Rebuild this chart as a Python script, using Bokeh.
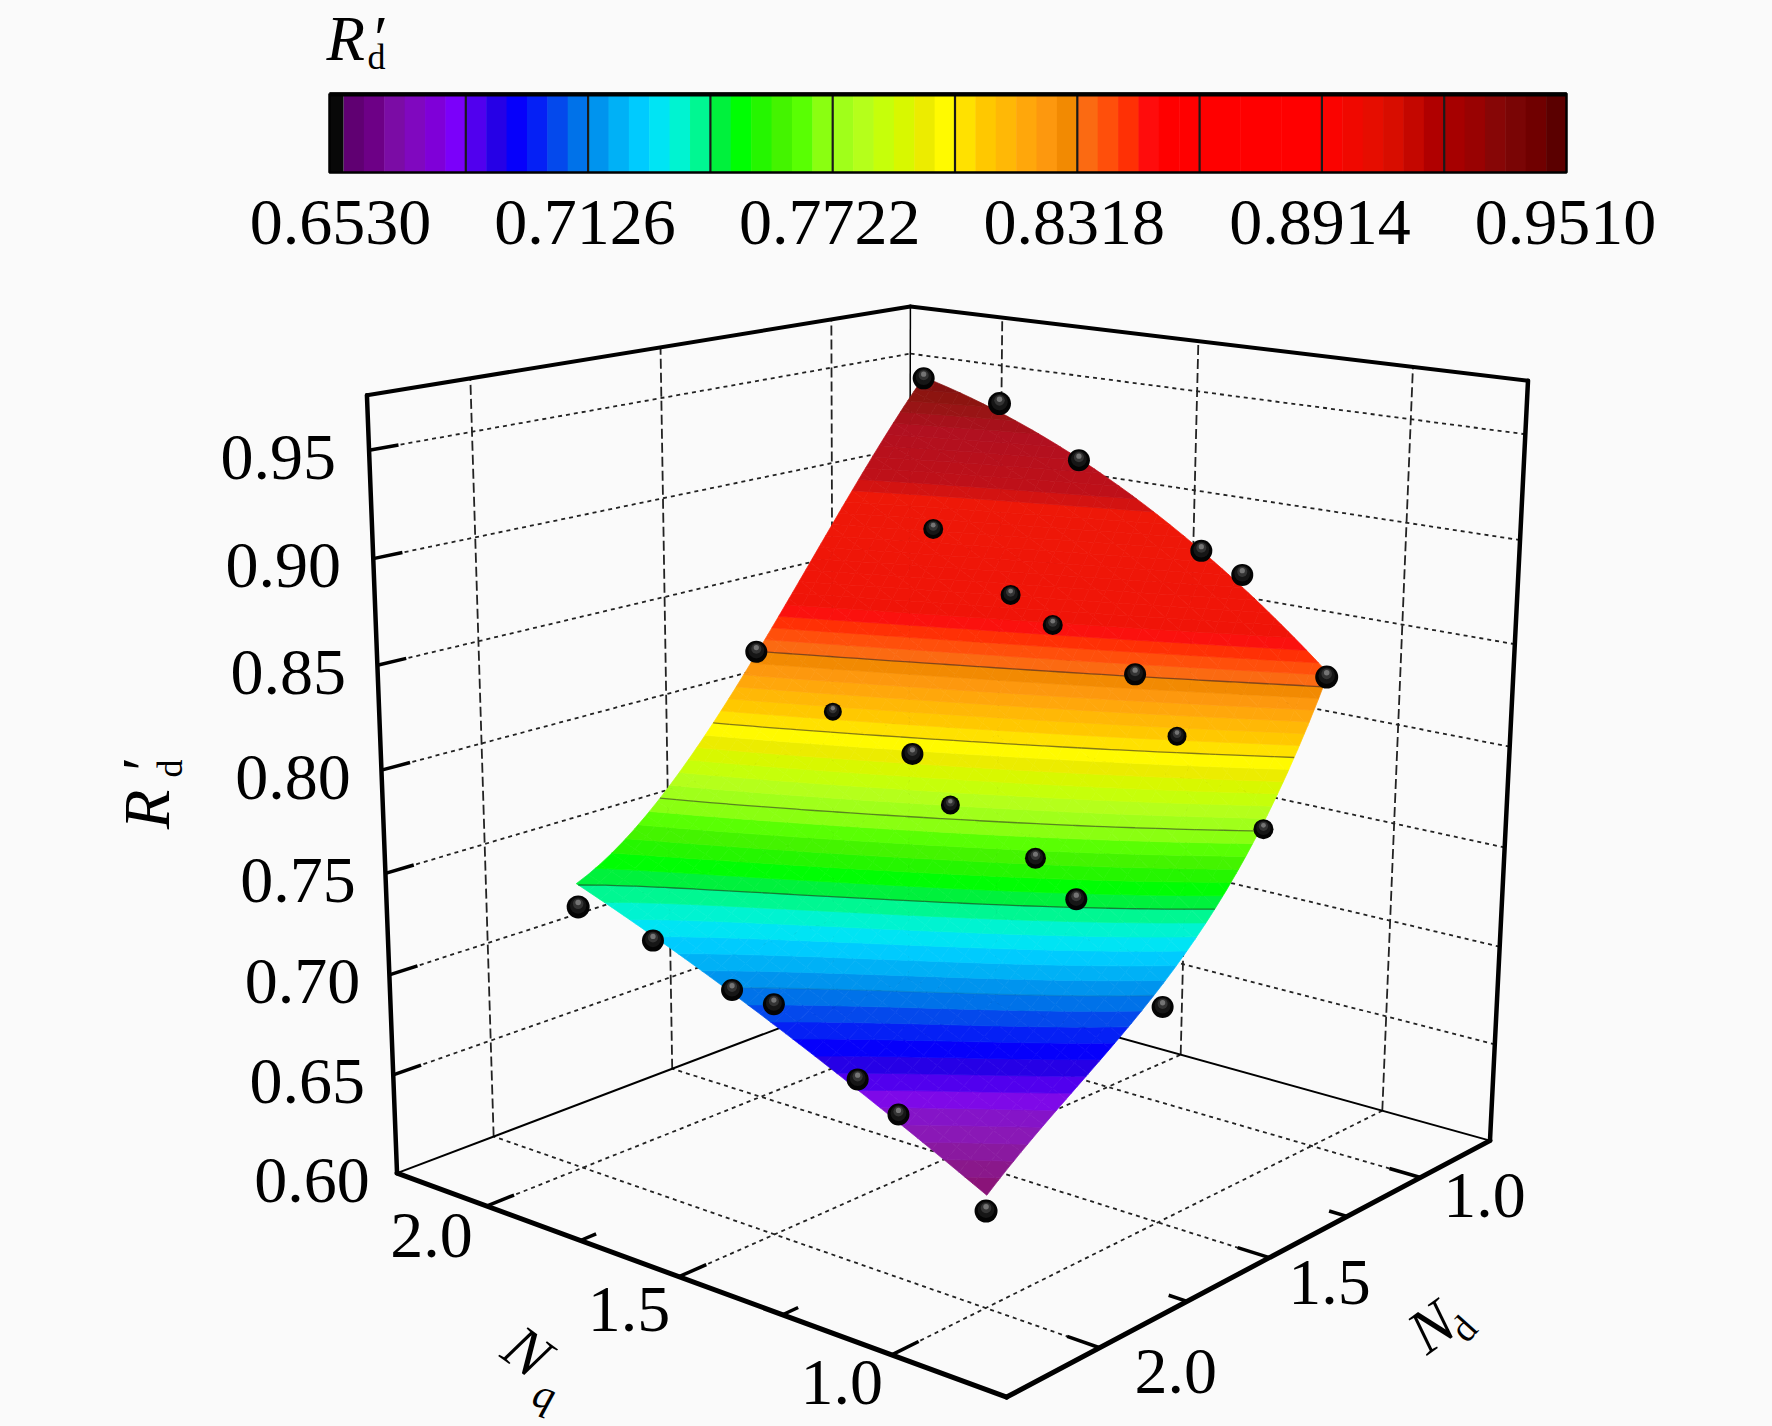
from bokeh.plotting import figure
from bokeh.embed import file_html
from bokeh.resources import INLINE
from bokeh.core.properties import value
import numpy as np

nq_grid = [1.0, 1.25, 1.5, 1.75, 2.0]
nd_grid = [1.0, 1.25, 1.5, 1.75, 2.0]
rd_nq100 = [0.838, 0.762, 0.718, 0.684, 0.653]
rd_nq125 = [0.878, 0.804, 0.748, 0.710, 0.678]
rd_nq150 = [0.912, 0.839, 0.776, 0.736, 0.702]
rd_nq175 = [0.934, 0.868, 0.802, 0.758, 0.723]
rd_nq200 = [0.951, 0.897, 0.826, 0.780, 0.742]
sample_nq = [2.000,1.810,1.600,1.300,1.210,1.000,1.825,1.615,1.510,1.325,1.205,2.020,1.810,1.625,1.505,1.315,1.210,0.995,1.965,1.795,1.605,1.525,1.310,1.210,0.985,0.975]
sample_nd = [1.000,0.990,1.000,1.000,0.990,1.005,1.175,1.190,1.190,1.170,1.195,1.480,1.490,1.470,1.500,1.480,1.490,1.205,2.030,2.005,1.995,1.970,1.985,1.990,2.020,1.535]
sample_rd = [0.951,0.943,0.921,0.886,0.877,0.836,0.886,0.861,0.850,0.832,0.808,0.830,0.809,0.795,0.777,0.759,0.745,0.773,0.735,0.726,0.712,0.708,0.686,0.676,0.648,0.709]
sample_r_px = [11,11.5,11,11,11,11.5,10,10,10,11,9.5,11,9,11,9.5,10.5,11,10,11.5,11,11,11,11,11,11.5,11]
cbar_ticks = [0.6530, 0.7126, 0.7722, 0.8318, 0.8914, 0.9510]
rd_ticks = [0.60, 0.65, 0.70, 0.75, 0.80, 0.85, 0.90, 0.95]
n_major = [1.0, 1.5, 2.0]
n_minor = [1.25, 1.75]
R_TOP = 0.975
cmap_stops = [(0.000,"#5a0068"),(0.027,"#6e0088"),(0.047,"#8010b0"),(0.071,"#8000d0"),(0.094,"#7a00ff"),(0.120,"#3000e0"),
 (0.145,"#0000ff"),(0.165,"#0830f0"),(0.187,"#0068e8"),(0.214,"#00a0f0"),(0.240,"#00c8ff"),(0.266,"#00f0f0"),(0.289,"#00f8a0"),
 (0.307,"#00f040"),(0.326,"#00ff00"),(0.353,"#40f000"),(0.372,"#50ff00"),(0.390,"#88ff10"),(0.420,"#b0ff20"),(0.452,"#d0ff00"),
 (0.472,"#e8e800"),(0.488,"#ffff00"),(0.525,"#ffc800"),(0.572,"#ff9a10"),(0.594,"#f08800"),(0.613,"#ff6018"),(0.635,"#ff4000"),
 (0.655,"#ff1010"),(0.668,"#ff0000"),(0.799,"#ff0000"),(0.852,"#e01000"),(0.891,"#b00000"),(0.918,"#a00000"),(0.948,"#800808"),
 (0.975,"#700000"),(1.000,"#500000")]
surface_low = [(0.000,"#8a1070"),(0.030,"#8a1a90"),(0.060,"#8a18b8"),(0.090,"#8010d8")]
surface_high = [(0.668,"#f01408"),(0.830,"#ee1808"),(0.850,"#c01018"),(0.930,"#b01020"),(0.970,"#901510"),(1.000,"#801010")]
surface_stops = surface_low + [s for s in cmap_stops if 0.09 < s[0] < 0.668] + surface_high

W, H = 1772, 1426
p = figure(width=W, height=H, x_range=(0, W), y_range=(H, 0), output_backend="svg", toolbar_location=None,
           min_border=0, outline_line_color=None, background_fill_color="#fafafa", border_fill_color="#fafafa")
p.xaxis.visible = False; p.yaxis.visible = False; p.grid.visible = False

# camera
Qa, Qb, Da, Db = 0.75, 2.25, 0.75, 2.25
corners = [((Qb,Db,R_TOP),(367,394)),((Qb,Db,0.6),(397,1173)),((Qa,Db,0.6),(1005,1397)),((Qa,Da,0.6),(1490,1139)),
           ((Qa,Da,R_TOP),(1528,381)),((Qb,Da,0.6),(908,979)),((Qb,Da,R_TOP),(909,306))]
def norm(q,d,r):
    return (np.asarray(q,float)-Qa)/1.5, (np.asarray(d,float)-Da)/1.5, (np.asarray(r,float)-0.6)/(R_TOP-0.6)
A=[]
for (q,d,r),(x,y) in corners:
    u,v,w=norm(q,d,r); x/=1000; y/=1000
    A.append([u,v,w,1,0,0,0,0,-x*u,-x*v,-x*w,-x]); A.append([0,0,0,0,u,v,w,1,-y*u,-y*v,-y*w,-y])
PM=np.linalg.svd(np.array(A,float))[2][-1].reshape(3,4)
def proj(q,d,r):
    u,v,w=norm(q,d,r); u,v,w=np.broadcast_arrays(u,v,w)
    s=PM[2,0]*u+PM[2,1]*v+PM[2,2]*w+PM[2,3]
    return 1000*(PM[0,0]*u+PM[0,1]*v+PM[0,2]*w+PM[0,3])/s, 1000*(PM[1,0]*u+PM[1,1]*v+PM[1,2]*w+PM[1,3])/s

def seg(pts_a, pts_b, **kw):
    xs=[];ys=[]
    for a,b in zip(pts_a,pts_b):
        xa,ya=proj(*a); xb,yb=proj(*b)
        xs.append([float(xa),float(xb)]); ys.append([float(ya),float(yb)])
    p.multi_line(xs,ys,**kw)

grid_kw=dict(line_color="#222222",line_width=1.8)
seg([(Qb,Db,r) for r in rd_ticks[1:]],[(Qb,Da,r) for r in rd_ticks[1:]],line_dash="4 4",**grid_kw)
seg([(Qa,Da,r) for r in rd_ticks[1:]],[(Qb,Da,r) for r in rd_ticks[1:]],line_dash="4 4",**grid_kw)
seg([(Qb,d,0.6) for d in n_major],[(Qb,d,R_TOP) for d in n_major],line_dash="10 4",**grid_kw)
seg([(q,Da,0.6) for q in n_major],[(q,Da,R_TOP) for q in n_major],line_dash="10 4",**grid_kw)
seg([(q,Db,0.6) for q in n_major],[(q,Da,0.6) for q in n_major],line_dash="4 4",**grid_kw)
seg([(Qa,d,0.6) for d in n_major],[(Qb,d,0.6) for d in n_major],line_dash="4 4",**grid_kw)
seg([(Qb,Db,0.6),(Qa,Da,0.6)],[(Qb,Da,0.6),(Qb,Da,0.6)],line_color="black",line_width=2)
seg([(Qb,Da,0.6)],[(Qb,Da,R_TOP)],line_color="black",line_width=1.5)

# colour map
def hex2(c): return np.array([int(c[i:i+2],16) for i in (1,3,5)],float)
def make_cmap(stops):
    fs=np.array([s[0] for s in stops]); cs=np.array([hex2(s[1]) for s in stops])
    def f_(v):
        f=(v-cbar_ticks[0])/(cbar_ticks[-1]-cbar_ticks[0])
        return "#%02x%02x%02x"%tuple(int(round(np.interp(f,fs,cs[:,i]))) for i in range(3))
    return f_
cmap=make_cmap(cmap_stops); smap=make_cmap(surface_stops)
N_BANDS=60
levels=np.linspace(cbar_ticks[0],cbar_ticks[-1],N_BANDS+1)
band_cols=[cmap(0.5*(levels[i]+levels[i+1])) for i in range(N_BANDS)]
surf_cols=[smap(0.5*(levels[i]+levels[i+1])) for i in range(N_BANDS)]

# surface
mesh=np.array([rd_nq100,rd_nq125,rd_nq150,rd_nq175,rd_nq200])
mq,md=np.meshgrid(nq_grid,nd_grid,indexing="ij")
def basis(q,d): return np.stack([q**i*d**j for i in range(4) for j in range(4)],axis=-1)
coef=np.linalg.lstsq(basis(mq.ravel(),md.ravel()),mesh.ravel(),rcond=None)[0]
def surf(q,d): return basis(np.asarray(q,float),np.asarray(d,float))@coef
M=32
fq,fd=np.meshgrid(np.linspace(1,2,M+1),np.linspace(1,2,M+1),indexing="ij")
fr=surf(fq,fd)
def clip(poly,lim,keep_above):
    out=[]
    for i in range(len(poly)):
        a=poly[i];b=poly[(i+1)%len(poly)]
        ina=(a[2]>=lim) if keep_above else (a[2]<=lim)
        inb=(b[2]>=lim) if keep_above else (b[2]<=lim)
        if ina: out.append(a)
        if ina!=inb:
            t=(lim-a[2])/(b[2]-a[2]); out.append(tuple(a[k]+t*(b[k]-a[k]) for k in range(3)))
    return out
px=[];py=[];pc=[]
cl_levels=[0.7126,0.7424,0.7722,0.8020,0.8318]
cx={l:[] for l in cl_levels}; cy={l:[] for l in cl_levels}
for i in range(M):
    for j in range(M):
        cell=[(fq[i,j],fd[i,j],fr[i,j]),(fq[i+1,j],fd[i+1,j],fr[i+1,j]),(fq[i+1,j+1],fd[i+1,j+1],fr[i+1,j+1]),(fq[i,j+1],fd[i,j+1],fr[i,j+1])]
        rs=[c[2] for c in cell]
        lo=int(np.clip(np.searchsorted(levels,min(rs))-1,0,N_BANDS-1)); hi=int(np.clip(np.searchsorted(levels,max(rs))-1,0,N_BANDS-1))
        for b in range(lo,hi+1):
            poly=cell
            if b>0: poly=clip(poly,levels[b],True)
            if poly and b<N_BANDS-1: poly=clip(poly,levels[b+1],False)
            if len(poly)>=3:
                arr=np.array(poly); x,y=proj(arr[:,0],arr[:,1],arr[:,2])
                px.append(x.tolist());py.append(y.tolist());pc.append(surf_cols[b])
        for l in cl_levels:
            if min(rs)<l<max(rs):
                pts=[]
                for k in range(4):
                    a=cell[k];b=cell[(k+1)%4]
                    if (a[2]-l)*(b[2]-l)<0:
                        t=(l-a[2])/(b[2]-a[2]); pts.append([a[n]+t*(b[n]-a[n]) for n in range(2)])
                if len(pts)>=2:
                    x,y=proj([pts[0][0],pts[1][0]],[pts[0][1],pts[1][1]],[l,l])
                    cx[l].append(x.tolist());cy[l].append(y.tolist())
p.patches(px,py,fill_color=pc,line_color=pc,line_width=0.7)
for l in cl_levels:
    p.multi_line(cx[l],cy[l],line_color="#202020",line_width=1.3,line_alpha=0.12 if l==cl_levels[0] else 0.55)

# samples: dark glossy balls
sx,sy=proj(sample_nq,sample_nd,sample_rd); sr_=np.array(sample_r_px,float)
p.circle(sx,sy,radius=sr_,fill_color="#040404",line_color=None)
p.circle(sx,sy-0.12*sr_,radius=0.72*sr_,fill_color="#161616",line_color=None)
p.circle(sx,sy-0.28*sr_,radius=0.46*sr_,fill_color="#343434",line_color=None)
p.circle(sx,sy-0.38*sr_,radius=0.24*sr_,fill_color="#747474",line_color=None)

# front frame, ticks
front=dict(line_color="black",line_cap="round")
seg([(Qb,Db,0.6),(Qa,Db,0.6)],[(Qa,Db,0.6),(Qa,Da,0.6)],line_width=5,**front)
seg([(Qb,Db,0.6),(Qa,Da,0.6)],[(Qb,Db,R_TOP),(Qa,Da,R_TOP)],line_width=4.5,**front)
seg([(Qb,Db,R_TOP),(Qb,Da,R_TOP)],[(Qb,Da,R_TOP),(Qa,Da,R_TOP)],line_width=4,**front)
seg([(Qb,Db,r) for r in rd_ticks[1:]],[(Qb,Db-0.07,r) for r in rd_ticks[1:]],line_width=3.5,line_color="black")
seg([(q,Db,0.6) for q in n_major],[(q,Db-0.07,0.6) for q in n_major],line_width=3.5,line_color="black")
seg([(q,Db,0.6) for q in n_minor],[(q,Db-0.04,0.6) for q in n_minor],line_width=3.5,line_color="black")
seg([(Qa,d,0.6) for d in n_major],[(Qa+0.07,d,0.6) for d in n_major],line_width=3.5,line_color="black")
seg([(Qa,d,0.6) for d in n_minor],[(Qa+0.04,d,0.6) for d in n_minor],line_width=3.5,line_color="black")

# colour bar
def barx(v): return 343+(np.asarray(v,float)-cbar_ticks[0])/(cbar_ticks[-1]-cbar_ticks[0])*1223
p.quad(left=barx(levels[:-1]),right=barx(levels[1:])+0.5,top=93,bottom=172,fill_color=band_cols,line_color=None)
p.quad(left=[329],right=[343],top=[93],bottom=[172],fill_color="#080808",line_color=None)
tick_vals=np.linspace(cbar_ticks[0],cbar_ticks[-1],11)
p.multi_line([[float(barx(v))]*2 for v in tick_vals[1:-1]],[[93,172]]*9,line_color="#1a1a1a",line_width=2.2)
p.multi_line([[329,1566]],[[94,94]],line_color="black",line_width=4)
p.multi_line([[329,1566,1566,329,329]],[[93,93,172,172,93]],line_color="black",line_width=2.5)

# text
serif=value("Liberation Serif")
def txt(x,y,t,size,style="normal",angle=0,align="center"):
    p.text(x=x if np.ndim(x) else [x],y=y if np.ndim(y) else [y],text=t if isinstance(t,list) else [t],text_font=serif,text_font_size=value(f"{size}px"),
           text_font_style=value(style),angle=angle,angle_units="deg",text_align=align,text_baseline="middle",text_color="black")
txt(barx(cbar_ticks)-np.array([3,3,3,3,2,1]),[222]*6,[f"{v:.4f}" for v in cbar_ticks],66)
xr,yr=proj(Qb,Db,np.array(rd_ticks))
txt(xr-33+16.0*(0.95-np.array(rd_ticks)),yr+7,[f"{v:.2f}" for v in rd_ticks],66,align="right")
xq,yq=proj(np.array(n_major),Db,0.6); txt(xq+np.array([-50,-50,-55]),yq+np.array([28,33,29]),[f"{v:.1f}" for v in n_major],66)
xd,yd=proj(Qa,np.array(n_major),0.6); txt(xd+np.array([64,60,76]),yd+np.array([18,25,24]),[f"{v:.1f}" for v in n_major],66)
# titles
txt(326,38,"R\u200a\u2032",63,"italic",align="left"); txt(376,56,"d",36)
txt(146,809,"R",65,"italic",angle=90); txt(142,767,"\u2032",62,"italic",angle=90); txt(169,768,"d",36,angle=90)
txt(527,1351,"N",62,"italic",angle=-36); txt(544,1394,"q",42,"italic",angle=-18)
txt(1431,1326,"N",62,"italic",angle=36); txt(1463,1328,"d",38,angle=48)

html=file_html(p,INLINE).replace("<head>","<head><style>html,body{margin:0;padding:0;background:#fafafa;overflow:hidden}</style>",1)
open("out.html","w").write(html)
